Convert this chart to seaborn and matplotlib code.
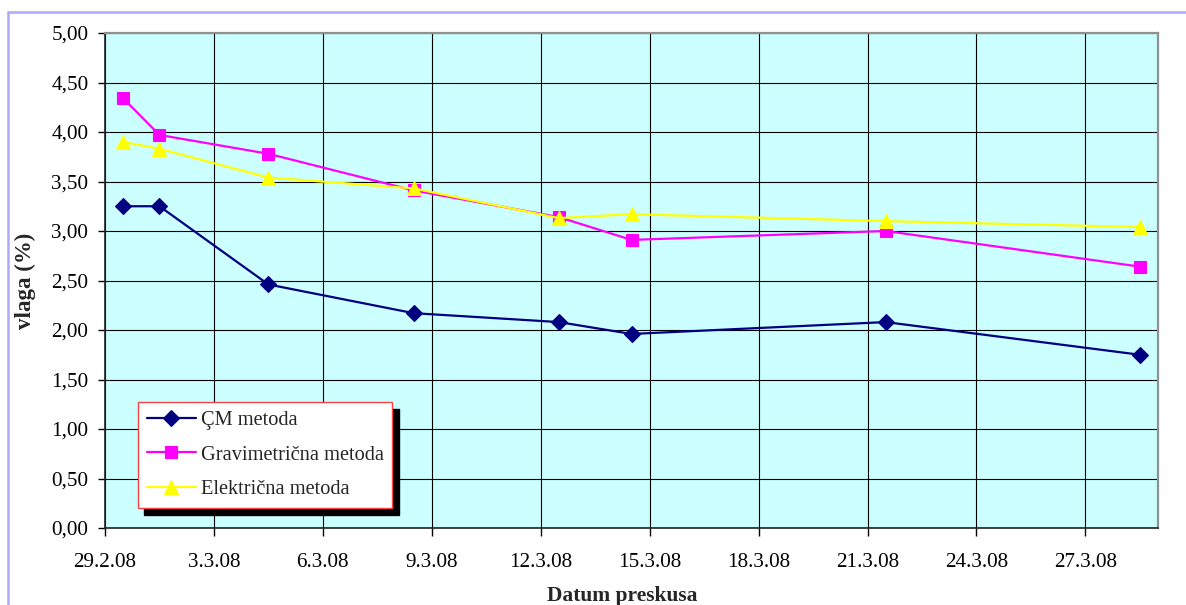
import matplotlib
matplotlib.use("Agg")
import matplotlib.pyplot as plt
from matplotlib.lines import Line2D
import seaborn as sns
import pandas as pd

# ---------------- data ----------------
dates = ["2008-02-29", "2008-03-01", "2008-03-04", "2008-03-08",
         "2008-03-12", "2008-03-14", "2008-03-21", "2008-03-28"]
cm_values = [3.25, 3.25, 2.46, 2.17, 2.08, 1.96, 2.08, 1.75]
grav_values = [4.34, 3.97, 3.78, 3.41, 3.14, 2.91, 3.00, 2.64]
elec_values = [3.90, 3.83, 3.54, 3.43, 3.13, 3.17, 3.10, 3.04]
series_names = ["ÇM metoda", "Gravimetrična metoda", "Električna metoda"]
x_tick_dates = ["2008-02-29", "2008-03-03", "2008-03-06", "2008-03-09", "2008-03-12",
                "2008-03-15", "2008-03-18", "2008-03-21", "2008-03-24", "2008-03-27"]
x_tick_labels = ["29.2.08", "3.3.08", "6.3.08", "9.3.08", "12.3.08",
                 "15.3.08", "18.3.08", "21.3.08", "24.3.08", "27.3.08"]
y_tick_values = [0.0, 0.5, 1.0, 1.5, 2.0, 2.5, 3.0, 3.5, 4.0, 4.5, 5.0]
y_tick_labels = ["0,00", "0,50", "1,00", "1,50", "2,00", "2,50",
                 "3,00", "3,50", "4,00", "4,50", "5,00"]
x_label = "Datum preskusa"
y_label = "vlaga (%)"

# ---------------- style ----------------
sns.set_style("white")
plt.rcParams["font.family"] = ["Liberation Serif", "DejaVu Serif"]
FS = 15.2
LFS = 14.7

colors = ["#000080", "#ff00ff", "#ffff00"]
markers = ["D", "s", "^"]
msizes = [8.5, 8.5, 10]

W, H = 1186, 605
fig = plt.figure(figsize=(W / 100, H / 100), dpi=100)
ax = fig.add_axes([105 / W, 1 - 528 / H, (1158 - 105) / W, (528 - 33) / H])
ax.set_facecolor("#ccffff")

# Excel places date points in the middle of the day slot
xdates = pd.to_datetime(dates) + pd.Timedelta(hours=12)
for vals, name, c, m, ms in zip([cm_values, grav_values, elec_values],
                                series_names, colors, markers, msizes):
    sns.lineplot(x=xdates, y=vals, ax=ax, label=name, color=c, marker=m,
                 markersize=ms, markeredgecolor=c, markeredgewidth=0.8,
                 linewidth=1.6, errorbar=None)

ax.set_xlim(pd.Timestamp("2008-02-29"), pd.Timestamp("2008-03-29"))
ax.set_ylim(0, 5)
ax.set_xticks(pd.to_datetime(x_tick_dates))
ax.set_xticklabels(x_tick_labels, fontsize=FS)
ax.set_yticks(y_tick_values)
ax.set_yticklabels(y_tick_labels, fontsize=FS)

ax.grid(True, color="black", linewidth=0.8)
ax.set_axisbelow(True)
for side in ["left", "bottom"]:
    ax.spines[side].set_color("#202020")
    ax.spines[side].set_linewidth(1.2)
for side in ["top", "right"]:
    ax.spines[side].set_color("#909090")
    ax.spines[side].set_linewidth(1.6)

ax.tick_params(axis="x", direction="out", length=6, width=1, pad=12,
               colors="black", bottom=True)
ax.tick_params(axis="y", direction="out", length=5, width=1, pad=7,
               colors="black", left=True)

ax.set_xlabel(x_label, fontsize=15.5, fontweight="bold")
ax.set_ylabel(y_label, fontsize=16.5, fontweight="bold")
ax.xaxis.set_label_coords((622 - 105) / (1158 - 105), -(586 - 528) / (528 - 33))
ax.yaxis.set_label_coords(-(105 - 36) / (1158 - 105), 0.5)

leg = ax.legend(loc="lower left", bbox_to_anchor=((138 - 105) / 1053, (528 - 508) / 495),
                borderaxespad=0, fontsize=LFS, frameon=True, fancybox=False,
                handlelength=2.4, handletextpad=0.25, labelspacing=0.76,
                borderpad=0.42,
                shadow={"ox": 4.5, "oy": -5.0, "facecolor": "black",
                        "edgecolor": "black", "alpha": 1.0})
leg.get_frame().set_edgecolor("#ff4040")
leg.get_frame().set_linewidth(1.0)
leg.get_frame().set_facecolor("white")
leg.get_frame().set_alpha(1.0)

# outer chart frame (light blue), partially cropped in the screenshot
fx, fy = 8 / W, 1 - 12 / H
fig.add_artist(Line2D([fx, fx], [0, fy], transform=fig.transFigure,
                      color="#aaaaff", linewidth=1.8))
fig.add_artist(Line2D([fx, 1], [fy, fy], transform=fig.transFigure,
                      color="#aaaaff", linewidth=1.8))

fig.savefig("out.png", dpi=100, facecolor="white")
